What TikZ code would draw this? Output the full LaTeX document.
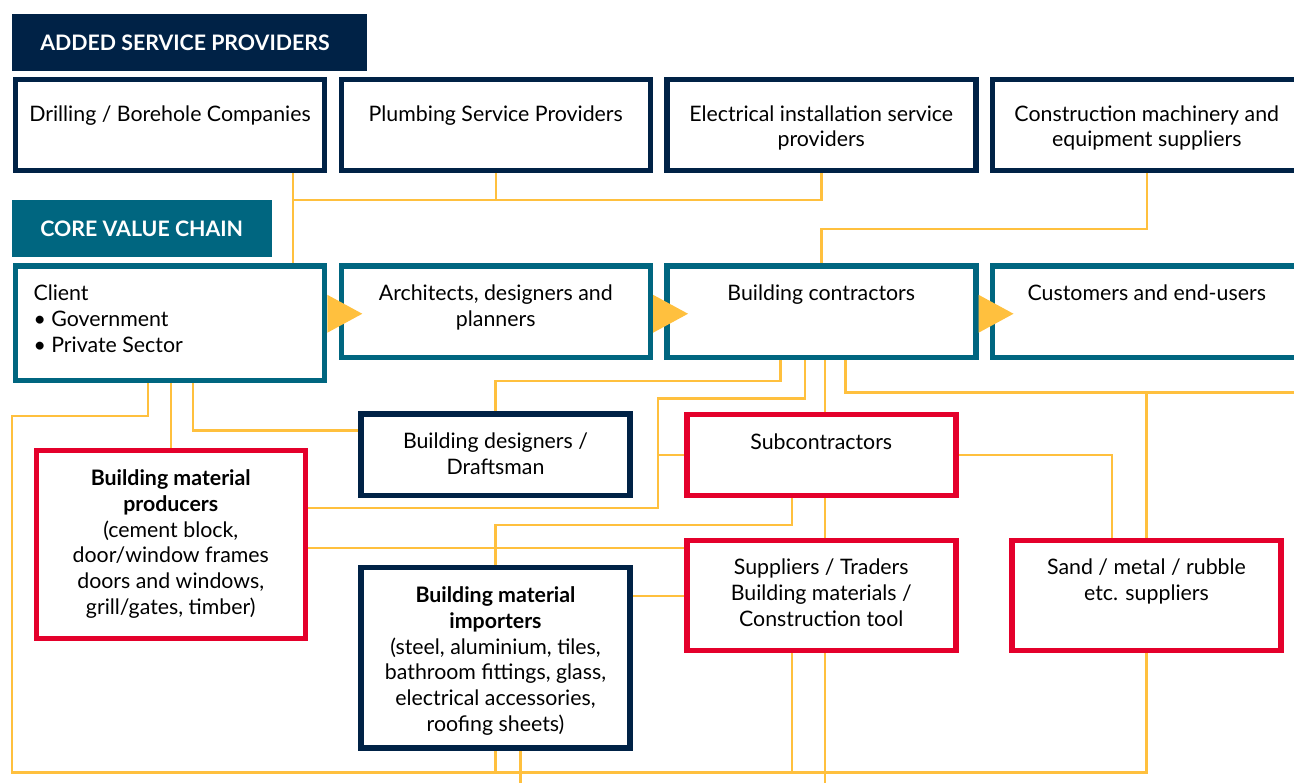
\documentclass[tikz,border=0pt]{standalone}
\usepackage{fontspec}
\setmainfont{Lato}
\usetikzlibrary{calc,backgrounds}

\definecolor{addnavy}{RGB}{0,34,70}
\definecolor{chainteal}{RGB}{0,102,128}
\definecolor{supred}{RGB}{228,0,43}
\definecolor{linkgold}{RGB}{255,192,62}
\newlength{\pxu}\setlength{\pxu}{0.75pt}
% first line strut: baseline sits 13pt below the text node's top
\newcommand{\firstline}{\rule{0pt}{13pt}}

\begin{document}
\begin{tikzpicture}[x=\pxu,y=-\pxu,
  box/.style={draw,fill=white,line width=5.5\pxu,inner sep=0pt,minimum width=309\pxu,minimum height=91.5\pxu},
  navybox/.style={box,draw=addnavy},
  tealbox/.style={box,draw=chainteal},
  redbox/.style={box,draw=supred,minimum width=269\pxu},
  head/.style={fill=#1,text=white,font=\bfseries\fontsize{16}{18}\selectfont,inner sep=0pt},
  txt/.style={anchor=north,align=center,inner sep=0pt,font=\fontsize{16}{19.4}\selectfont},
  link/.style={draw=linkgold,line width=2.5\pxu},
  tip/.style={fill=linkgold}]
  \useasboundingbox (0,0) rectangle (1294,783);
  \clip (0,0) rectangle (1294,783);

  % headers
  \node[head=addnavy,minimum width=355\pxu,minimum height=57\pxu] (added) at (189.5,42.5) {\hspace*{-6.75pt}ADDED SERVICE PROVIDERS};
  \node[head=chainteal,minimum width=259.5\pxu,minimum height=56.7\pxu] (core) at (141.75,228.35) {CORE VALUE CHAIN};

  % added service providers (baselines 42px under the top edge)
  \node[navybox,minimum height=91\pxu] (drill) at (170,125) {};
  \node[navybox,minimum height=91\pxu] (plumb) at (495.75,125) {};
  \node[navybox,minimum height=91\pxu] (elec) at (821.25,125) {};
  \node[navybox,minimum height=91\pxu] (mach) at (1146.75,125) {};
  \node[txt] (drill-t) at ($(drill.north)+(0,26.7)$) {\firstline Drilling / Borehole Companies};
  \node[txt] (plumb-t) at ($(plumb.north)+(0,26.7)$) {\firstline Plumbing Service Providers};
  \node[txt] (elec-t) at ($(elec.north)+(0,26.7)$) {\firstline Electrical installation service\\providers};
  \node[txt] (mach-t) at ($(mach.north)+(0,26.7)$) {\firstline Construction machinery and\\equipment suppliers};

  % core value chain (baselines 34px under the top edge)
  \node[tealbox,minimum height=114.5\pxu] (client) at (170,323.25) {};
  \node[tealbox] (arch) at (495.75,311.75) {};
  \node[tealbox] (contr) at (821.25,311.75) {};
  \node[tealbox] (cust) at (1146.75,311.75) {};
  \node[txt,anchor=north west,align=left] (client-t) at ($(client.north west)+(20.5,19.5)$) {\firstline Client\\\textbullet\ Government\\\textbullet\ Private Sector};
  \node[txt] (arch-t) at ($(arch.north)+(0,19.5)$) {\firstline Architects, designers and\\planners};
  \node[txt] (contr-t) at ($(contr.north)+(0,19.5)$) {\firstline Building contractors};
  \node[txt] (cust-t) at ($(cust.north)+(0,19.5)$) {\firstline Customers and end-users};
  \foreach \a/\b in {client/arch,arch/contr,contr/cust}
    \fill[tip] ($(\a.east |- \b.west)+(0,-17)$) -- ++(35,19) -- ++(-35,19) -- cycle;

  % suppliers and trades
  \node[navybox,minimum width=269\pxu,minimum height=81.5\pxu] (design) at (495.5,454.75) {};
  \node[redbox,minimum height=81\pxu] (subcon) at (821.25,455) {};
  \node[redbox,minimum height=188\pxu] (prod) at (170.75,544.5) {};
  \node[navybox,minimum width=269\pxu,minimum height=180.5\pxu] (imp) at (495.5,657.75) {};
  \node[redbox,minimum height=110\pxu] (supp) at (821.25,595.5) {};
  \node[redbox,minimum height=110\pxu] (sand) at (1146.5,595.5) {};
  \node[txt] (design-t) at ($(design.north)+(0,20)$) {\firstline Building designers /\\Draftsman};
  \node[txt] (subcon-t) at ($(subcon.north)+(0,20)$) {\firstline Subcontractors};
  \node[txt] (prod-t) at ($(prod.north)+(0,20)$) {\firstline\textbf{Building material}\\\textbf{producers}\\(cement block,\\door/window frames\\doors and windows,\\grill/gates, timber)};
  \node[txt] (imp-t) at ($(imp.north)+(0,20)$) {\firstline\textbf{Building material}\\\textbf{importers}\\(steel, aluminium, tiles,\\bathroom fittings, glass,\\electrical accessories,\\roofing sheets)};
  \node[txt] (supp-t) at ($(supp.north)+(0,19.5)$) {\firstline Suppliers / Traders\\Building materials /\\Construction tool};
  \node[txt] (sand-t) at ($(sand.north)+(0,19.5)$) {\firstline Sand / metal / rubble\\etc. suppliers};

  \begin{pgfonlayer}{background}
    % top links
    \draw[link] (drill.south -| 293,0) -- (client.north -| 293,0);
    \draw[link] (plumb.south) -- (plumb.south |- 0,200);
    \draw[link] (elec.south) |- (293,200);
    \draw[link] (mach.south) |- (contr.north |- 0,229) -- (contr.north);
    % client links
    \draw[link] (client.south -| 148,0) |- (12,416) |- (sand.south |- 0,772.5) -- (sand.south);
    \draw[link] (client.south -| prod.north) -- (prod.north);
    \draw[link] (client.south -| 193,0) |- (design.west |- 0,430.5);
    % contractor links
    \draw[link] (contr.south -| 780.5,0) |- (design.north |- 0,381) -- (design.north);
    \draw[link] (contr.south -| 805,0) |- (658,398.5) |- (prod.east |- 0,508);
    \draw[link] (658,455) -- (subcon.west);
    \draw[link] (contr.south -| 825,0) -- (subcon.north -| 825,0);
    \draw[link] (subcon.south -| 825,0) -- (supp.north -| 825,0);
    \draw[link] (supp.south -| 825,0) -- (825,783);
    \draw[link] (contr.south -| 845.5,0) |- (1294,392.5);
    \draw[link] (sand.north) -- (sand.north |- 0,392.5);
    % lower links
    \draw[link] (subcon.east) -| (sand.north -| 1112,0);
    \draw[link] (subcon.south -| 792,0) |- (imp.north |- 0,525) -- (imp.north);
    \draw[link] (prod.east |- 0,548) -- (supp.west |- 0,548);
    \draw[link] (imp.east |- 0,596) -- (supp.west |- 0,596);
    \draw[link] (imp.south) -- (imp.south |- 0,772.5);
    \draw[link] (imp.south -| 520.5,0) -- (520.5,783);
    \draw[link] (supp.south -| 792,0) -- (792,772.5);
  \end{pgfonlayer}
\end{tikzpicture}
\end{document}
